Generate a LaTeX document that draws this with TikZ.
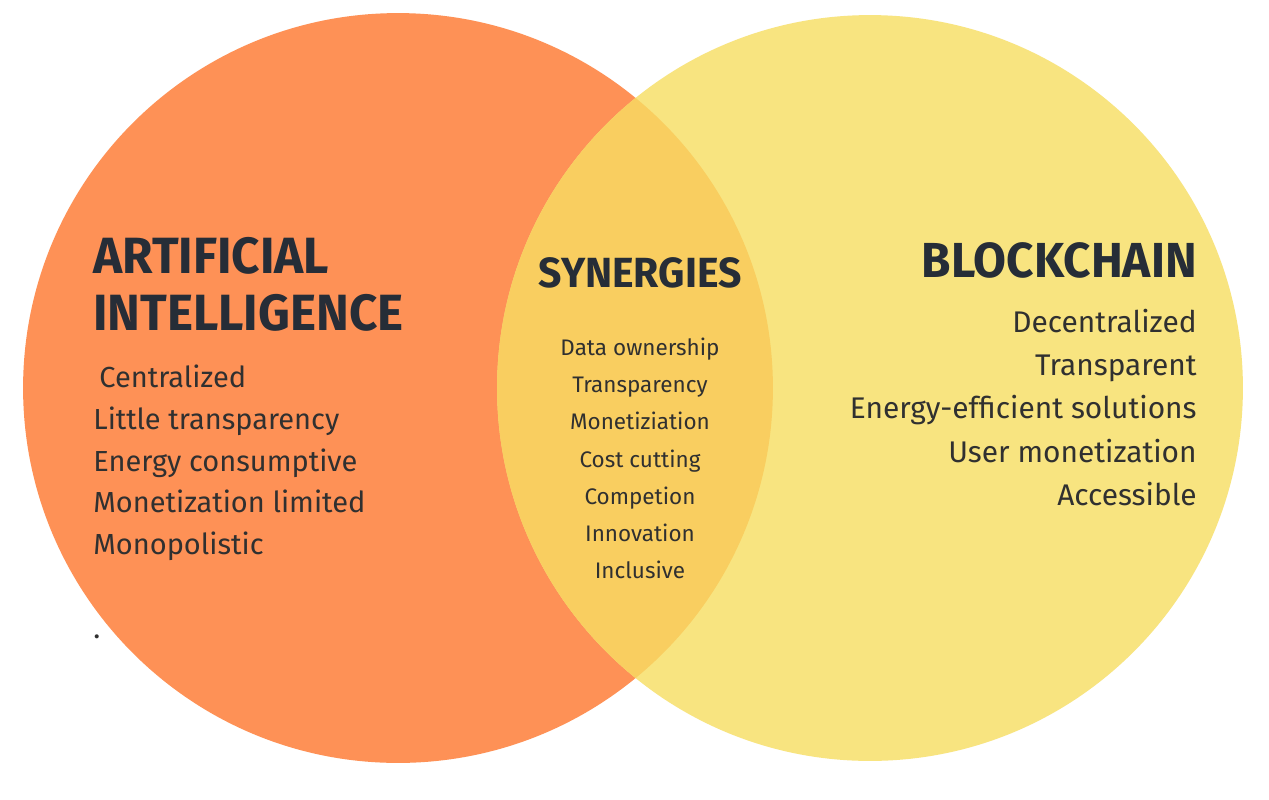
\documentclass[tikz,border=0pt]{standalone}
\usepackage{fontspec}
\setmainfont{Fira Sans}
\newfontfamily\headfont{Fira Sans}[FakeStretch=0.97]
\usepackage{tikz}
\usetikzlibrary{positioning}
\definecolor{aiorange}{RGB}{254,145,86}
\definecolor{chainyellow}{RGB}{248,228,128}
\definecolor{synergyyellow}{RGB}{249,206,96}
\definecolor{headink}{RGB}{38,45,55}
\definecolor{bodyink}{RGB}{48,48,48}

\begin{document}
\begin{tikzpicture}[x=0.02cm, y=-0.02cm,
    heading/.style={font=\headfont\bfseries\fontsize{29}{33}\selectfont,
                    text=headink, inner sep=0pt},
    item/.style={font=\fontsize{16.5}{20}\selectfont, text=bodyink, inner sep=0pt},
    smallitem/.style={font=\fontsize{12.8}{15}\selectfont, text=bodyink, inner sep=0pt}]
        \useasboundingbox (0,0) rectangle (1269,799);
        \fill[white] (0,0) rectangle (1269,799);
        % Circles
        \coordinate (aic) at (398,388);
        \coordinate (bcc) at (870,388);
        \fill[aiorange] (aic) circle [radius=7.5cm];
        \fill[chainyellow] (bcc) circle [radius=7.46cm];
        % Overlap
        \begin{scope}
          \clip (aic) circle [radius=7.5cm];
          \fill[synergyyellow] (bcc) circle [radius=7.46cm];
        \end{scope}
        % Artificial intelligence
        \node[heading, anchor=base west] (aititle) at (93,273) {ARTIFICIAL};
        \node[heading, anchor=base west] (aititlb) at (93,330) {INTELLIGENCE};
        \node[item, anchor=base west] (ai1) at (99,387) {Centralized};
        \node[item, anchor=base west] (ai2) at (93,429) {Little transparency};
        \node[item, anchor=base west] (ai3) at (93,471) {Energy consumptive};
        \node[item, anchor=base west] (ai4) at (93,512) {Monetization limited};
        \node[item, anchor=base west] (ai5) at (93,554) {Monopolistic};
        \node[item, anchor=base west] (aidot) at (93,638) {.};
        % Synergies
        \node[heading, font=\headfont\bfseries\fontsize{24}{28}\selectfont,
              anchor=base] (syntitle) at (640,287) {SYNERGIES};
        \node[smallitem, anchor=base] (syn1) at (640,355) {Data ownership};
        \node[smallitem, anchor=base] (syn2) at (640,392) {Transparency};
        \node[smallitem, anchor=base] (syn3) at (640,429) {Monetiziation};
        \node[smallitem, anchor=base] (syn4) at (640,467) {Cost cutting};
        \node[smallitem, anchor=base] (syn5) at (640,504) {Competion};
        \node[smallitem, anchor=base] (syn6) at (640,541) {Innovation};
        \node[smallitem, anchor=base] (syn7) at (640,578) {Inclusive};
        % Blockchain
        \node[heading, font=\headfont\bfseries\fontsize{28}{32}\selectfont,
              anchor=base east] (bctitle) at (1197,277) {BLOCKCHAIN};
        \node[item, font=\fontsize{17}{20}\selectfont, anchor=base east] (bc1) at (1197,332) {Decentralized};
        \node[item, font=\fontsize{17}{20}\selectfont, anchor=base east] (bc2) at (1197,375) {Transparent};
        \node[item, font=\fontsize{17}{20}\selectfont, anchor=base east] (bc3) at (1197,418) {Energy-efficient solutions};
        \node[item, font=\fontsize{17}{20}\selectfont, anchor=base east] (bc4) at (1197,462) {User monetization};
        \node[item, font=\fontsize{17}{20}\selectfont, anchor=base east] (bc5) at (1197,505) {Accessible};
      \end{tikzpicture}
\end{document}
